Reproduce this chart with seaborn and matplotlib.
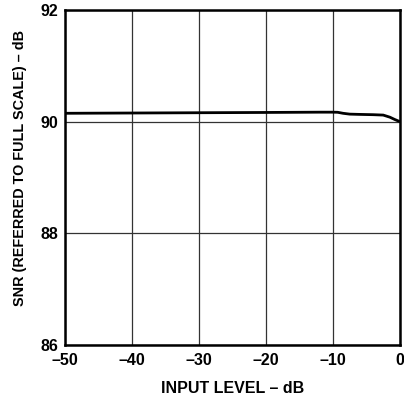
import numpy as np
import pandas as pd
import seaborn as sns
import matplotlib.pyplot as plt

# values
input_level = [-50, -40, -30, -20, -12, -10, -9.3, -8.5, -7.5, -6, -4, -2.5, -1.5, -0.8, 0]
snr = [90.15, 90.155, 90.16, 90.165, 90.17, 90.17, 90.168, 90.15, 90.135, 90.13, 90.125, 90.118, 90.08, 90.04, 90.0]

x_ticks = [-50, -40, -30, -20, -10, 0]
x_labels = ["\u201350", "\u201340", "\u201330", "\u201320", "\u201310", "0"]
y_ticks = [86, 88, 90, 92]

df = pd.DataFrame({"level": input_level, "snr": snr})

sns.set_style("white", {"text.color": "black", "axes.labelcolor": "black",
                        "xtick.color": "black", "ytick.color": "black"})
plt.rcParams['font.family'] = ['Liberation Sans', 'DejaVu Sans']

fig = plt.figure(figsize=(4.04, 4.0), dpi=100)
ax = fig.add_axes([0.161, 0.1375, 0.829, 0.8375])

for xv in x_ticks:
    ax.axvline(xv, color="#333333", lw=0.9, zorder=1)
for yv in y_ticks:
    ax.axhline(yv, color="#333333", lw=0.9, zorder=1)

sns.lineplot(data=df, x="level", y="snr", ax=ax, color="black", lw=2.0, zorder=3)

ax.set_xlim(-50, 0)
ax.set_ylim(86, 92)
ax.set_xticks(x_ticks)
ax.set_xticklabels(x_labels, fontsize=11.5, fontweight="bold", color="black")
ax.set_yticks(y_ticks)
ax.set_yticklabels([str(v) for v in y_ticks], fontsize=11.5, fontweight="bold", color="black")
ax.tick_params(axis="x", length=0, pad=6)
ax.tick_params(axis="y", length=0, pad=5)
for s in ax.spines.values():
    s.set_linewidth(1.8)
    s.set_color("black")

ax.set_xlabel("INPUT LEVEL \u2013 dB", fontsize=11.5, fontweight="bold", labelpad=9, color="black")
ax.set_ylabel("SNR (REFERRED TO FULL SCALE) \u2013 dB", fontsize=10.4, fontweight="bold", color="black")
ax.yaxis.set_label_coords(-0.113, 0.527)

fig.savefig("out.png", dpi=100)
